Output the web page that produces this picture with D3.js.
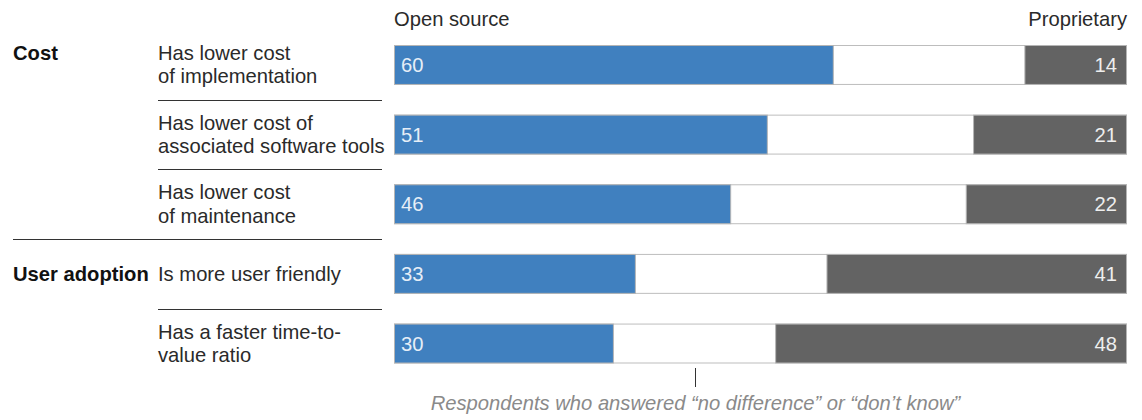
<!DOCTYPE html>
<html>
<head>
<meta charset="utf-8">
<script src="https://cdn.jsdelivr.net/npm/d3@7"></script>
<style>
  body { margin: 0; background: #fff; }
  text { font-family: "Liberation Sans", Arial, Helvetica, sans-serif; }
</style>
</head>
<body>
<div id="chart"></div>
<script>
// data
var groups = ["Cost", "Cost", "Cost", "User adoption", "User adoption"];
var items = [
  ["Has lower cost", "of implementation"],
  ["Has lower cost of", "associated software tools"],
  ["Has lower cost", "of maintenance"],
  ["Is more user friendly"],
  ["Has a faster time-to-", "value ratio"]
];
var openSource = [60, 51, 46, 33, 30];
var proprietary = [14, 21, 22, 41, 48];
var noDiffMark = 41;

var width = 1142, height = 420;

var svg = d3.select("#chart").append("svg")
    .attr("width", width)
    .attr("height", height);

var x = d3.scaleLinear()
  .domain([0, 100])
  .range([394, 1127]);

var y = d3.scaleBand()
  .domain(d3.range(items.length))
  .range([45, 363.5])
  .paddingInner(0.4265)
  .paddingOuter(0);

var bh = y.bandwidth();
var fs = 20.2;

// headers
svg.append("text")
  .attr("x", x(0)).attr("y", 26)
  .style("font-size", fs + "px").style("fill", "#2a2a2a")
  .text("Open source");

svg.append("text")
  .attr("x", x(100)).attr("y", 26)
  .attr("text-anchor", "end")
  .style("font-size", fs + "px").style("fill", "#2a2a2a")
  .text("Proprietary");

var rows = svg.selectAll(".row")
  .data(d3.range(items.length))
  .enter().append("g")
  .attr("class", "row");

// white background (no difference) bar
rows.append("rect")
  .attr("x", x(0) + 0.5)
  .attr("y", function(i) { return y(i) + 0.5; })
  .attr("width", x(100) - x(0) - 1)
  .attr("height", bh - 1)
  .style("fill", "#fff")
  .style("stroke", "#bdbdbd");

// open source
rows.append("rect")
  .attr("x", x(0) + 0.5)
  .attr("y", function(i) { return y(i) + 0.5; })
  .attr("width", function(i) { return x(openSource[i]) - x(0) - 1; })
  .attr("height", bh - 1)
  .style("fill", "#4080bf")
  .style("stroke", "#b5b5b5");

// proprietary
rows.append("rect")
  .attr("x", function(i) { return x(100 - proprietary[i]) + 0.5; })
  .attr("y", function(i) { return y(i) + 0.5; })
  .attr("width", function(i) { return x(100) - x(100 - proprietary[i]) - 1; })
  .attr("height", bh - 1)
  .style("fill", "#636363")
  .style("stroke", "#b5b5b5");

rows.append("text")
  .attr("x", x(0) + 7)
  .attr("y", function(i) { return y(i) + bh / 2 + 7; })
  .style("font-size", fs + "px")
  .style("fill", "#e6eef7")
  .text(function(i) { return openSource[i]; });

rows.append("text")
  .attr("x", x(100) - 10)
  .attr("y", function(i) { return y(i) + bh / 2 + 7; })
  .attr("text-anchor", "end")
  .style("font-size", fs + "px")
  .style("fill", "#eeeeee")
  .text(function(i) { return proprietary[i]; });

// item labels
var lh = 23.3;
rows.each(function(i) {
  var lines = items[i];
  var base = y(i) + bh / 2 + 7.3 - (lines.length - 1) * lh / 2 - (lines.length > 1 ? 0.6 : 0);
  var t = d3.select(this).append("text")
    .style("font-size", fs + "px")
    .style("fill", "#2a2a2a");
  lines.forEach(function(l, k) {
    t.append("tspan").attr("x", 158).attr("y", base + k * lh).text(l);
  });
  // group label on first row of group
  if (i === 0 || groups[i] !== groups[i - 1]) {
    d3.select(this).append("text")
      .attr("x", 13).attr("y", base)
      .style("font-size", fs + "px")
      .style("font-weight", "bold")
      .style("fill", "#111")
      .text(groups[i]);
  }
});

// separators
var step = y.step();
d3.range(items.length - 1).forEach(function(i) {
  var ly = Math.round(y(i) + bh + (step - bh) / 2) + 0.5;
  var newGroup = groups[i + 1] !== groups[i];
  svg.append("line")
    .attr("x1", newGroup ? 13 : 158)
    .attr("x2", 382)
    .attr("y1", ly).attr("y2", ly)
    .style("stroke", "#333")
    .style("stroke-width", 1);
});

// no difference annotation
var ax = Math.round(x(noDiffMark)) + 0.5;
svg.append("line")
  .attr("x1", ax).attr("x2", ax)
  .attr("y1", 368).attr("y2", 387)
  .style("stroke", "#333");

svg.append("text")
  .attr("x", ax).attr("y", 410)
  .attr("text-anchor", "middle")
  .style("font-size", fs + "px")
  .style("font-style", "italic")
  .style("fill", "#8a8a8a")
  .text("Respondents who answered \u201cno difference\u201d or \u201cdon\u2019t know\u201d");
</script>
</body>
</html>
